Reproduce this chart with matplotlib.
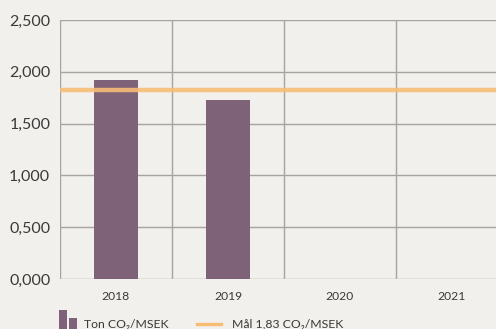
import matplotlib
matplotlib.use('Agg')
import matplotlib.pyplot as plt
from matplotlib.patches import Rectangle
from matplotlib.lines import Line2D

plt.rcParams['font.family'] = ['Lato', 'DejaVu Sans']

years = ['2018', '2019', '2020', '2021']
ton_co2 = [1.92, 1.73, 0.0, 0.0]
target = 1.82
yticks = [0.0, 0.5, 1.0, 1.5, 2.0, 2.5]
ytick_labels = ['0,000', '0,500', '1,000', '1,500', '2,000', '2,500']
legend_labels = ['Ton CO₂/MSEK', 'Mål 1,83 CO₂/MSEK']

bg = '#f1f0ec'
bar_color = '#7d6278'
line_color = '#f7bd75'
grid_color = '#a8a39d'
text_color = '#3a3a3a'

W, H = 496, 329
fig = plt.figure(figsize=(W / 100, H / 100), dpi=100, facecolor=bg)
ax = fig.add_axes([60 / W, 50 / H, 448 / W, 259 / H])
ax.set_facecolor(bg)

x = range(len(years))
ax.bar(x, ton_co2, width=0.4, color=bar_color, zorder=2)
ax.axhline(target, color=line_color, lw=3.2, alpha=0.9, zorder=3)

ax.set_xlim(-0.5, len(years) - 0.5)
ax.set_ylim(0, 2.5)
ax.set_yticks(yticks)
ax.set_yticklabels(ytick_labels)
ax.set_xticks(list(x))
ax.set_xticklabels(years)

for y in yticks:
    ax.axhline(y, color=grid_color, lw=1, zorder=1)
for b in [i - 0.5 for i in range(len(years) + 1)]:
    ax.axvline(b, color=grid_color, lw=1, zorder=1)

for s in ax.spines.values():
    s.set_visible(False)
ax.tick_params(length=0, colors=text_color)
ax.tick_params(axis='y', labelsize=11.5, pad=7)
ax.tick_params(axis='x', labelsize=8.7, pad=9)

# legend drawn by hand in figure pixels (cut off at the bottom like the original)
fig.add_artist(Rectangle((59 / W, -4 / H), 8 / W, 23 / H, facecolor=bar_color,
                         transform=fig.transFigure))
fig.add_artist(Rectangle((69 / W, -4 / H), 8 / W, 15 / H, facecolor=bar_color,
                         transform=fig.transFigure))
fig.text(84 / W, 1.5 / H, legend_labels[0], fontsize=8.8, color=text_color,
         va='baseline', ha='left')
fig.add_artist(Line2D([197 / W, 221 / W], [5.5 / H, 5.5 / H], color=line_color,
                      lw=2.4, transform=fig.transFigure))
fig.text(232 / W, 1.5 / H, legend_labels[1], fontsize=8.8, color=text_color,
         va='baseline', ha='left')

fig.savefig('out.png', dpi=100, facecolor=bg)
